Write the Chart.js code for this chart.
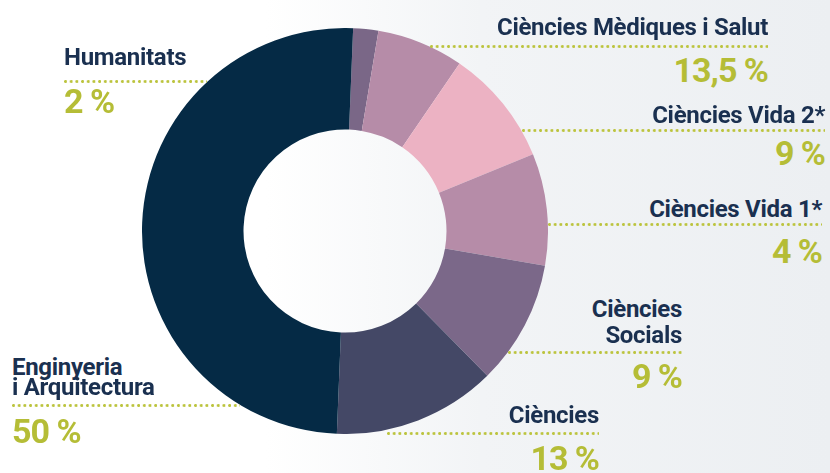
<!DOCTYPE html>
<html lang="ca">
<head>
  <meta charset="UTF-8">
  <title>Distribució per àmbits</title>
  <script src="https://cdn.jsdelivr.net/npm/chart.js"></script>
  <style>
    body {
      margin: 0;
      width: 830px;
      height: 473px;
      overflow: hidden;
      position: relative;
      font-family: Roboto, "DejaVu Sans", sans-serif;
      background: linear-gradient(to right, #ffffff 0%, #ffffff 32%, #f2f4f6 58%, #eceff2 100%);
    }
    #wrap {
      position: absolute;
      left: 142px;
      top: 28px;
      width: 406px;
      height: 406px;
    }
    .lbl {
      position: absolute;
      white-space: nowrap;
      color: #1a3050;
      font-weight: 700;
      font-size: 24px;
      line-height: 24px;
      letter-spacing: -0.3px;
    }
    .pct {
      position: absolute;
      white-space: nowrap;
      color: #b5bd36;
      font-weight: 700;
      font-size: 34px;
      line-height: 34px;
      letter-spacing: -1px;
    }
    .dots {
      position: absolute;
      height: 3px;
      background-image: radial-gradient(circle at 1.5px 1.5px, #bcc43e 1.2px, rgba(188,196,62,0) 1.7px);
      background-size: 5.7px 3px;
      background-repeat: repeat-x;
    }
  </style>
</head>
<body>
  <div id="wrap"><canvas id="donut" width="406" height="406"></canvas></div>

  <script>
    // slices in drawing order, clockwise from the top
    const categories = ['Humanitats', 'Ciències Mèdiques i Salut', 'Ciències Vida 2*', 'Ciències Vida 1*', 'Ciències Socials', 'Ciències', 'Enginyeria i Arquitectura'];
    const shares = [2, 6.9, 9.3, 8.9, 9.9, 13, 50];
    const pctLabels = ['2 %', '13,5 %', '9 %', '4 %', '9 %', '13 %', '50 %'];
    const sliceColors = ['#7a6787', '#b68ca8', '#ecb2c3', '#b68ca8', '#7b6889', '#444866', '#052a45'];

    new Chart(document.getElementById('donut'), {
      type: 'doughnut',
      data: {
        labels: categories,
        datasets: [{
          data: shares,
          backgroundColor: sliceColors,
          borderWidth: 0,
          hoverOffset: 0
        }]
      },
      options: {
        responsive: false,
        animation: false,
        cutout: '50%',
        rotation: 2.3,
        plugins: {
          legend: { display: false },
          tooltip: { enabled: false }
        }
      }
    });

    // label layout: text lines (baselines), dotted rule, percentage
    const layout = [
      { align: 'left',  x: 64,  lines: [[65, 'Humanitats']],                          rule: [81, 64, 207],  pctBase: 113 },
      { align: 'right', x: 768, lines: [[35, 'Ciències Mèdiques i Salut']],            rule: [46, 430, 768], pctBase: 82 },
      { align: 'right', x: 825, lines: [[123, 'Ciències Vida 2*']],                    rule: [130, 522, 825], pctBase: 165 },
      { align: 'right', x: 822, lines: [[217, 'Ciències Vida 1*']],                    rule: [224, 548, 822], pctBase: 263 },
      { align: 'right', x: 682, lines: [[317, 'Ciències'], [343, 'Socials']],          rule: [352, 508, 682], pctBase: 388 },
      { align: 'right', x: 599, lines: [[423, 'Ciències']],                            rule: [433, 387, 599], pctBase: 470 },
      { align: 'left',  x: 12,  lines: [[375, 'Enginyeria'], [395, 'i Arquitectura']], rule: [405, 12, 240], pctBase: 443 }
    ];

    function place(cls, text, x, baseline, size, align) {
      const d = document.createElement('div');
      d.className = cls;
      d.textContent = text;
      d.style.top = (baseline - 0.8415 * size) + 'px';
      if (align === 'left') d.style.left = x + 'px';
      else d.style.right = (830 - x) + 'px';
      document.body.appendChild(d);
    }

    layout.forEach((l, i) => {
      l.lines.forEach(([b, t]) => place('lbl', t, l.x, b, 24, l.align));
      const r = document.createElement('div');
      r.className = 'dots';
      r.style.top = (l.rule[0] - 1.5) + 'px';
      r.style.left = l.rule[1] + 'px';
      r.style.width = (l.rule[2] - l.rule[1]) + 'px';
      document.body.appendChild(r);
      place('pct', pctLabels[i], l.x, l.pctBase, 34, l.align);
    });
  </script>
</body>
</html>
